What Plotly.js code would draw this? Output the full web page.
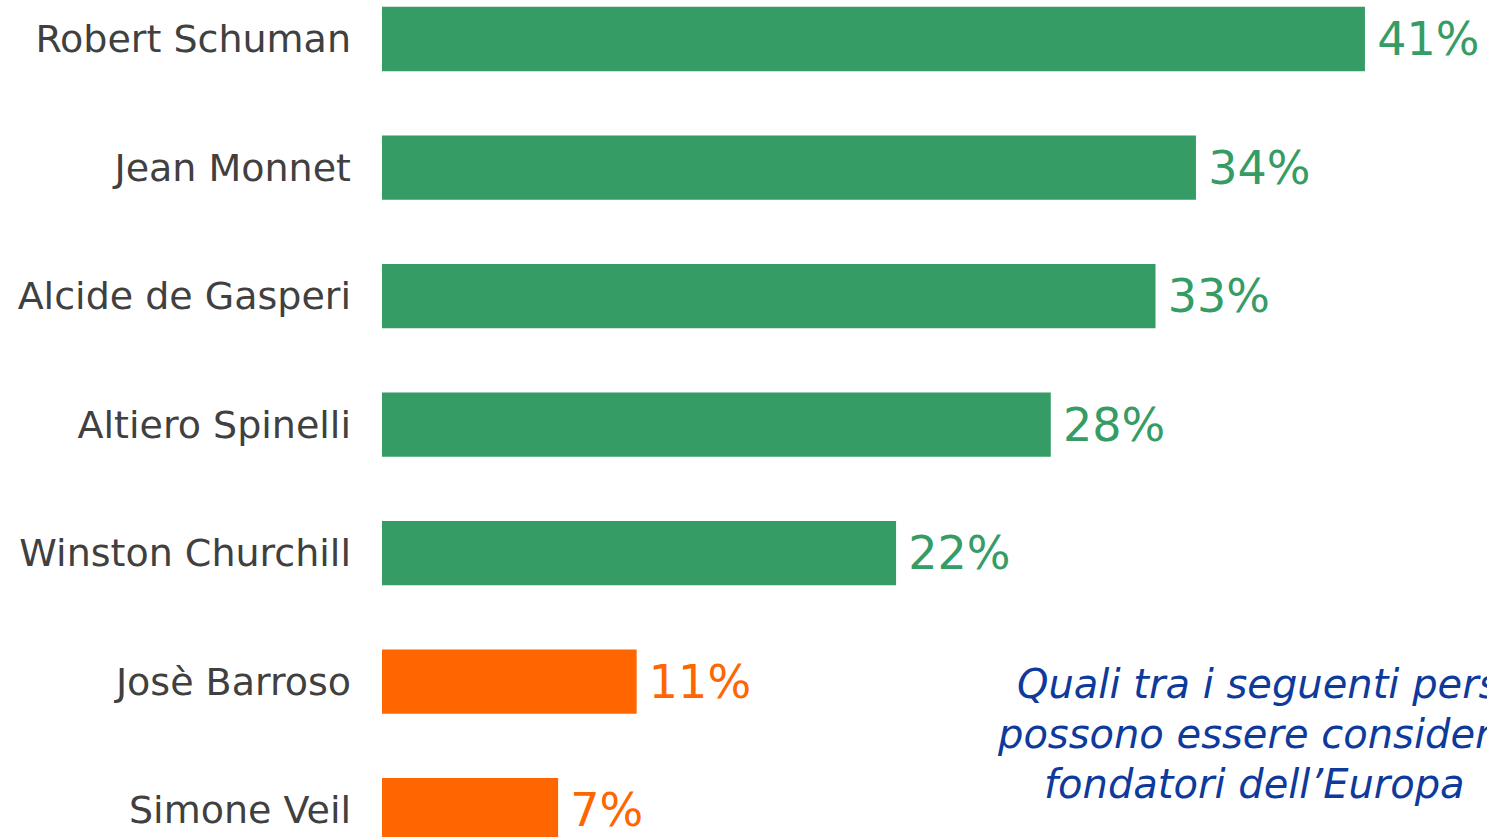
<!DOCTYPE html>
<html>
<head>
<meta charset="utf-8">
<script src="https://cdn.plot.ly/plotly-3.0.1.min.js"></script>
<style>html,body{margin:0;padding:0;background:#fff;overflow:hidden}#chart{width:1487px;height:837px}</style>
</head>
<body>
<div id="chart"></div>
<script>
const categories = ["Robert Schuman","Jean Monnet","Alcide de Gasperi","Altiero Spinelli","Winston Churchill","Josè Barroso","Simone Veil"];
const values = [41.3,34.2,32.5,28.1,21.6,10.7,7.4];
const barColors = ["#359c66","#359c66","#359c66","#359c66","#359c66","#ff6600","#ff6600"];
const noteLines = ["Quali tra i seguenti personaggi","possono essere considerati padri","fondatori dell\u2019Europa"];

const FONT = "DejaVu Sans, sans-serif";
const trace = {
  type: "bar",
  orientation: "h",
  y: categories,
  x: values,
  width: 0.5,
  marker: {color: barColors},
  text: values.map(v => "\u2009" + Math.round(v) + "%"),
  textposition: "outside",
  textfont: {family: FONT, size: 46, color: barColors},
  constraintext: "none",
  cliponaxis: false,
  hoverinfo: "none"
};

const W = 1487, H = 837;
const lineX = [1015, 995, 1042];
const lineY = [684, 734, 784];
const annotations = noteLines.map((t, i) => ({
  text: t,
  xref: "paper", yref: "paper",
  x: (lineX[i] - 382) / (W - 382),
  y: 1 - lineY[i] / H,
  xanchor: "left", yanchor: "middle",
  showarrow: false,
  font: {family: FONT, size: 40, color: "#0d3a9b", style: "italic"}
}));

const layout = {
  width: W, height: H,
  margin: {l: 382, r: 0, t: 0, b: 0, pad: 0},
  paper_bgcolor: "#fff", plot_bgcolor: "#fff",
  showlegend: false,
  xaxis: {range: [0, (W - 382) / 23.8], visible: false, fixedrange: true},
  yaxis: {
    type: "category",
    range: [6.210, -0.3035],
    showgrid: false, zeroline: false, showline: false,
    ticks: "", ticklabelstandoff: 30,
    tickfont: {family: FONT, size: 38, color: "#404040"},
    fixedrange: true
  },
  annotations: annotations
};

Plotly.newPlot("chart", [trace], layout, {staticPlot: true, displayModeBar: false});
</script>
</body>
</html>
